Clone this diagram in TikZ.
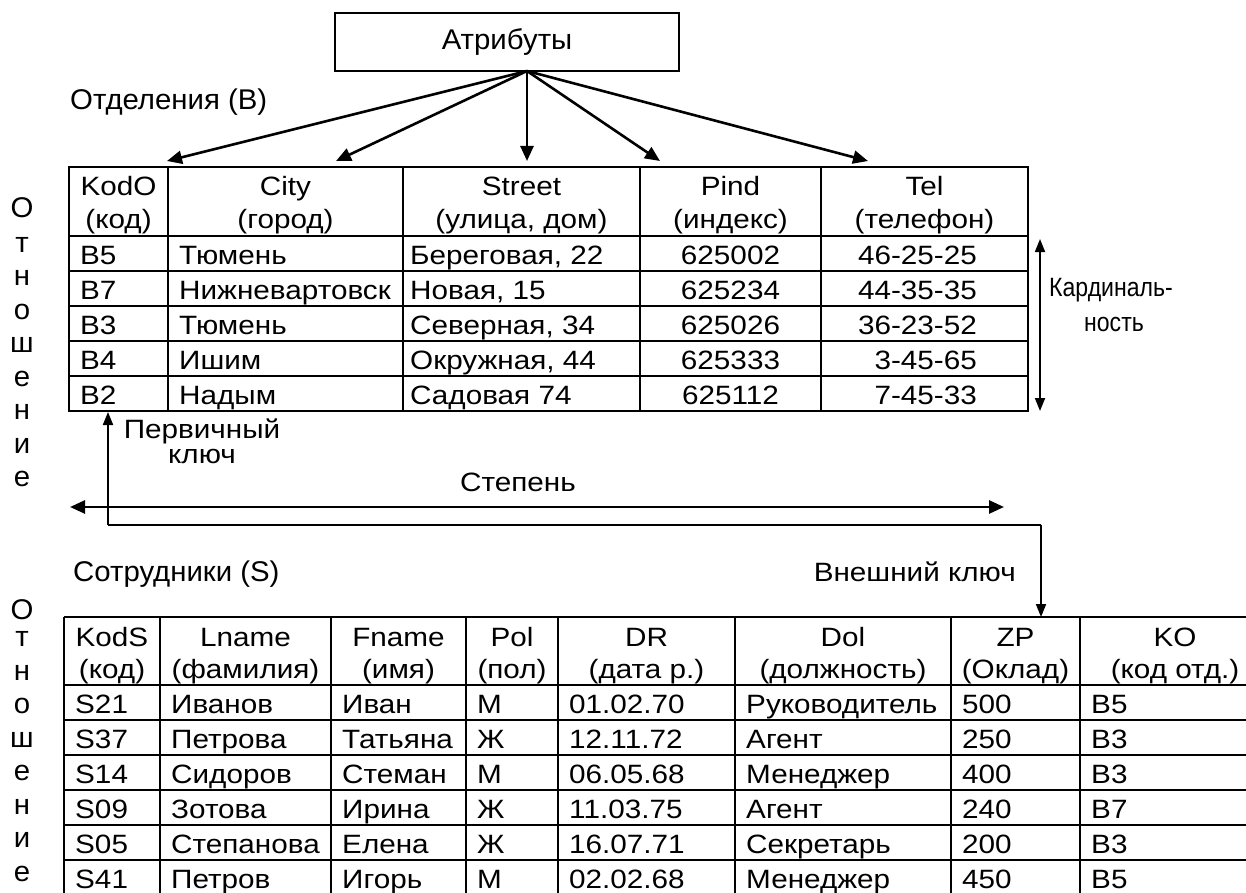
\documentclass[tikz,border=0pt]{standalone}
\usepackage{fontspec}
\setmainfont{Liberation Sans}
\newfontfamily\tabfam[FakeStretch=1.12]{Liberation Sans}
\newfontfamily\lblfam[FakeStretch=1.03]{Liberation Sans}
\newfontfamily\narfam[FakeStretch=0.87]{Liberation Sans}
\newcommand\TabFont{\tabfam\fontsize{26.5}{30}\selectfont}
\newcommand\LblFont{\lblfam\fontsize{28.5}{32}\selectfont}
\newcommand\NarFont{\narfam\fontsize{26.5}{30}\selectfont}
\usetikzlibrary{arrows.meta}
\begin{document}
\begin{tikzpicture}[x=1pt,y=-1pt,
  txt/.style={font=\TabFont, inner sep=0pt},
  lbl/.style={font=\LblFont, inner sep=0pt},
  nar/.style={font=\NarFont, inner sep=0pt},
  tbl/.style={line width=1.7pt},
  attr/.style={line width=2.6pt, -{Triangle[length=15pt,width=13pt]}},
  deg/.style={line width=2.6pt, {Triangle[length=15pt,width=13pt]}-{Triangle[length=15pt,width=13pt]}},
  card/.style={line width=1.8pt, {Triangle[length=13pt,width=10pt]}-{Triangle[length=13pt,width=10pt]}},
  keyarr/.style={line width=1.9pt, -{Triangle[length=13pt,width=10pt]}},
  thinline/.style={line width=1.2pt}]
\useasboundingbox (0,0) rectangle (1246,893);
\clip (0,0) rectangle (1246,893);
\fill[white] (0,0) rectangle (1246,893);

% ---------- Attributes box ----------
\node[lbl, draw, line width=1.2pt, minimum width=344pt, minimum height=58pt] (attr) at (507,42) {Атрибуты};
\coordinate (src) at (527,71);

% ---------- Table 1 labels ----------
\node[lbl, anchor=base west] (otd) at (70,110) {Отделения (B)};

% ---------- Table 1 grid ----------
\draw[tbl] (69,167) rectangle (1028,411);
\foreach \y in {236,271,306,341,376} \draw[tbl] (69,\y) -- (1028,\y);
\foreach \x in {168,403,640,821} \draw[tbl] (\x,167) -- (\x,411);

% header table 1
\foreach \x/\t/\s [count=\i] in {118.5/KodO/{(код)}, 285.5/City/{(город)}, 521.5/Street/{(улица, дом)}, 730.5/Pind/{(индекс)}, 924.5/Tel/{(телефон)}} {
  \node[txt, anchor=base] (ha\i) at (\x,196) {\t};
  \node[txt, anchor=base] (hb\i) at (\x,229) {\s};
}
% body table 1
\foreach \a/\b/\c/\d/\e [count=\i] in {B5/Тюмень/{Береговая, 22}/625002/46-25-25, B7/Нижневартовск/{Новая, 15}/625234/44-35-35, B3/Тюмень/{Северная, 34}/625026/36-23-52, B4/Ишим/{Окружная, 44}/625333/3-45-65, B2/Надым/{Садовая 74}/625112/7-45-33} {
  \node[txt, anchor=base west] (ra\i) at (80,{229+35*\i}) {\a};
  \node[txt, anchor=base west] (rb\i) at (179,{229+35*\i}) {\b};
  \node[txt, anchor=base west] (rc\i) at (410,{229+35*\i}) {\c};
  \node[txt, anchor=base] (rd\i) at (730.5,{229+35*\i}) {\d};
  \node[txt, anchor=base east] (re\i) at (977,{229+35*\i}) {\e};
}

% attribute arrows
\coordinate (tA) at (167,161);
\coordinate (tB) at (336,161);
\coordinate (tC) at (527,161);
\coordinate (tD) at (660,161);
\coordinate (tE) at (868,161);
\foreach \t in {tA,tB,tC,tD,tE} \draw[attr] (src) -- (\t);

% cardinality
\coordinate (cardT) at (1040,239);
\coordinate (cardB) at (1040,411);
\draw[card] (cardT) -- (cardB);
\node[nar, anchor=base] (card1) at (1111,296) {Кардиналь-};
\node[nar, anchor=base] (card2) at (1114,331) {ность};

% vertical word table 1
\foreach \l/\y [count=\i] in {О/218, т/252, н/285.5, о/319, ш/352.5, е/386, н/419.5, и/453, е/486.5} {
  \node[lbl, anchor=base] (va\i) at (22,\y) {\l};
}

% primary key / degree / foreign key
\coordinate (pkTip) at (108,412);
\coordinate (pkCorner) at (108,525);
\coordinate (fkCorner) at (1041,525);
\coordinate (fkTip) at (1041,617);
\draw[keyarr] (pkCorner) -- (pkTip);
\draw[thinline] (pkCorner) -- (fkCorner);
\draw[keyarr] (fkCorner) -- (fkTip);
\node[txt, anchor=base] (pk1) at (202,438) {Первичный};
\node[txt, anchor=base] (pk2) at (202,463) {ключ};

\coordinate (degL) at (70,507);
\coordinate (degR) at (1004,507);
\draw[deg] (degL) -- (degR);
\node[txt, anchor=base] (degLbl) at (518,491) {Степень};

\node[txt, anchor=base east] (fkLbl) at (1016,581) {Внешний ключ};

% ---------- Table 2 ----------
\node[lbl, anchor=base west] (sotr) at (73,581) {Сотрудники (S)};

\draw[tbl] (64,617) -- (1270,617);
\foreach \y in {685,720,755,790,825,860,895} \draw[tbl] (64,\y) -- (1270,\y);
\foreach \x in {64,160,331,466,558,735,951,1080,1270} \draw[tbl] (\x,617) -- (\x,895);

\foreach \x/\t/\s [count=\i] in {112/KodS/{(код)}, 245.5/Lname/{(фамилия)}, 398.5/Fname/{(имя)}, 512/Pol/{(пол)}, 646.5/DR/{(дата р.)}, 843/Dol/{(должность)}, 1015.5/ZP/{(Оклад)}, 1175/KO/{(код отд.)}} {
  \node[txt, anchor=base] (sa\i) at (\x,646) {\t};
  \node[txt, anchor=base] (sb\i) at (\x,678) {\s};
}
\foreach \a/\b/\c/\d/\e/\f/\g/\h [count=\i] in {S21/Иванов/Иван/М/01.02.70/Руководитель/500/B5, S37/Петрова/Татьяна/Ж/12.11.72/Агент/250/B3, S14/Сидоров/Стеман/М/06.05.68/Менеджер/400/B3, S09/Зотова/Ирина/Ж/11.03.75/Агент/240/B7, S05/Степанова/Елена/Ж/16.07.71/Секретарь/200/B3, S41/Петров/Игорь/М/02.02.68/Менеджер/450/B5} {
  \node[txt, anchor=base west] (q1\i) at (75,{678+35*\i}) {\a};
  \node[txt, anchor=base west] (q2\i) at (171,{678+35*\i}) {\b};
  \node[txt, anchor=base west] (q3\i) at (342,{678+35*\i}) {\c};
  \node[txt, anchor=base west] (q4\i) at (477,{678+35*\i}) {\d};
  \node[txt, anchor=base west] (q5\i) at (569,{678+35*\i}) {\e};
  \node[txt, anchor=base west] (q6\i) at (746,{678+35*\i}) {\f};
  \node[txt, anchor=base west] (q7\i) at (962,{678+35*\i}) {\g};
  \node[txt, anchor=base west] (q8\i) at (1091,{678+35*\i}) {\h};
}

% vertical word table 2
\foreach \l/\y [count=\i] in {О/619, т/646, н/680, о/713, ш/747, е/780, н/814, и/847, е/881} {
  \node[lbl, anchor=base] (vb\i) at (22,\y) {\l};
}
\end{tikzpicture}
\end{document}
